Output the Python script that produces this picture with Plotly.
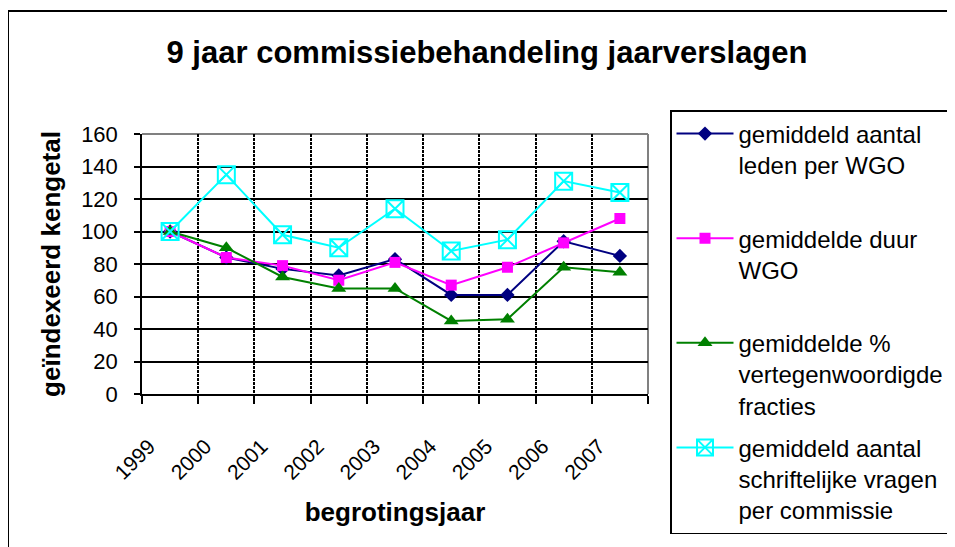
import plotly.graph_objects as go

years = ["1999", "2000", "2001", "2002", "2003", "2004", "2005", "2006", "2007"]
leden = [100, 84, 77, 73, 83, 61, 61, 94, 85]
duur = [100, 84, 79, 70, 81, 67, 78, 93, 108]
fracties = [100, 90, 72, 65, 65, 45, 46, 78, 75]
vragen = [100, 135, 98, 90, 114, 88, 95, 131, 124]

names = [
    "gemiddeld aantal<br>leden per WGO<br>\u00a0",
    "gemiddelde duur<br>WGO<br>\u00a0",
    "gemiddelde %<br>vertegenwoordigde<br>fracties",
    "gemiddeld aantal<br>schriftelijke vragen<br>per commissie",
]

FONT = "Liberation Sans, Arial, sans-serif"

fig = go.Figure()
fig.add_trace(go.Scatter(
    x=years, y=leden, name=names[0], mode="lines+markers", legendgroup="a",
    line=dict(color="#000080", width=2),
    marker=dict(symbol="diamond", size=11, color="#000080")))
fig.add_trace(go.Scatter(
    x=years, y=duur, name=names[1], mode="lines+markers", legendgroup="b",
    line=dict(color="#FF00FF", width=2),
    marker=dict(symbol="square", size=11, color="#FF00FF")))
fig.add_trace(go.Scatter(
    x=years, y=fracties, name=names[2], mode="lines+markers", legendgroup="c",
    line=dict(color="#008000", width=2),
    marker=dict(symbol="triangle-up", size=13, color="#008000")))
fig.add_trace(go.Scatter(
    x=years, y=vragen, name=names[3], mode="lines+markers", legendgroup="d",
    line=dict(color="#00FFFF", width=2),
    marker=dict(symbol="square-x-open", size=17, color="#00FFFF",
                line=dict(color="#00FFFF", width=2))))

# page body has an 8px margin: work in screen coords, subtract offset
O = 8
W, H = 955 - O, 547 - O
L, R, T, B = 142 - O, 648 - O, 134 - O, 394 - O


def px(x):
    return (x - O - L) / (R - L)


def py(y):
    return (B - (y - O)) / (B - T)


fig.update_layout(
    width=W, height=H,
    margin=dict(l=L, r=W - R, t=T, b=H - B, autoexpand=False),
    paper_bgcolor="white", plot_bgcolor="white",
    font=dict(family=FONT, color="black", size=22),
    title=dict(text="9 jaar commissiebehandeling jaarverslagen",
               font=dict(family=FONT, size=31, weight="bold", color="black"),
               x=(487 - O) / W, xref="container", xanchor="center",
               y=1 - (52 - O) / H, yref="container", yanchor="middle"),
    showlegend=True,
    legend=dict(
        x=px(670), y=py(110), xanchor="left", yanchor="top",
        xref="paper", yref="paper", maxheight=520,
        bgcolor="white", bordercolor="black", borderwidth=1.5,
        font=dict(family=FONT, size=24, color="black"),
        valign="top", tracegroupgap=8, itemwidth=57,
        traceorder="grouped",
    ),
    xaxis=dict(
        type="category", range=[-0.5, 8.5],
        tickson="boundaries", ticks="outside", ticklen=8, tickwidth=1.5, tickcolor="black",
        showline=True, linecolor="black", linewidth=1.5,
        showgrid=True, gridcolor="black", gridwidth=1.5, griddash="3px,1px",
        tickangle=-45, tickfont=dict(family=FONT, size=21),
        ticklabelshift=-21, ticklabelstandoff=30,
        title=dict(text="begrotingsjaar", font=dict(family=FONT, size=26, weight="bold"), standoff=20),
        fixedrange=True,
    ),
    yaxis=dict(
        range=[0, 160], dtick=20, tick0=0,
        ticks="outside", ticklen=6, tickwidth=1.5, tickcolor="black",
        showline=True, linecolor="black", linewidth=1.5,
        showgrid=True, gridcolor="black", gridwidth=1.5,
        zeroline=False,
        tickfont=dict(family=FONT, size=22), ticklabelstandoff=12,
        title=dict(text="geïndexeerd kengetal", font=dict(family=FONT, size=26, weight="bold"), standoff=13),
        fixedrange=True,
    ),
    shapes=[
        # outer chart border
        dict(type="rect", xref="paper", yref="paper",
             x0=px(8), x1=px(975), y0=py(570), y1=py(11),
             line=dict(color="black", width=2), layer="below"),
        # plot-area border (top and right, gray)
        dict(type="line", xref="paper", yref="paper", x0=0, x1=1, y0=1, y1=1,
             line=dict(color="#808080", width=2), layer="between"),
        dict(type="line", xref="paper", yref="paper", x0=1, x1=1, y0=0, y1=1,
             line=dict(color="#808080", width=2), layer="between"),
    ],
)

fig.write_html("out.html")
